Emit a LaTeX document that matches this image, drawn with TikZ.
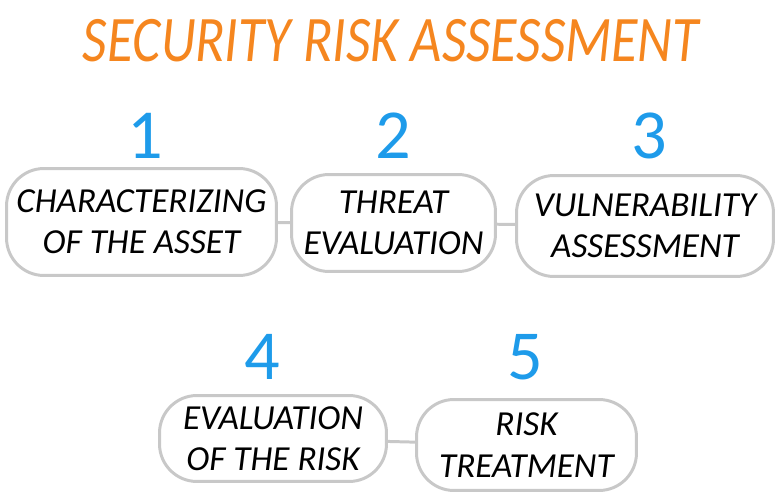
\documentclass[tikz,border=0pt]{standalone}
\usepackage{fontspec}
\setmainfont{Carlito}
\usetikzlibrary{positioning}
\definecolor{titleorange}{HTML}{F5861F}
\definecolor{numblue}{HTML}{1E9BEA}
\definecolor{boxgray}{HTML}{C8C8C8}
\tikzset{stage/.style={draw=boxgray, line width=1.7pt, rounded corners=0.75cm, align=center, inner sep=0pt, font=\fontsize{20}{23.5}\selectfont\itshape}}
\tikzset{num/.style={text=numblue, inner sep=0pt, font=\fontsize{40}{40}\selectfont}}
\tikzset{link/.style={draw=boxgray, line width=1.7pt}}

\begin{document}
\begin{tikzpicture}[x=0.02cm, y=-0.02cm]
\useasboundingbox (0,0) rectangle (782,500);
\node[text=titleorange, inner sep=0pt, font=\fontsize{37}{37}\selectfont\itshape] (title) at (391,41) {\scalebox{0.83}[1]{SECURITY RISK ASSESSMENT}};
% steps
\node[num] (n1) at (145,136) {1};
\node[num] (n2) at (393,136) {2};
\node[num] (n3) at (649,136) {3};
\node[num] (n4) at (262,357) {4};
\node[num] (n5) at (525,357) {5};
\node[stage, minimum width=5.4cm, minimum height=2.14cm] (s1) at (141.5,222) {CHARACTERIZING\\OF THE ASSET};
\node[stage, minimum width=4.08cm, minimum height=1.94cm] (s2) at (393.5,223) {THREAT\\EVALUATION};
\node[stage, minimum width=5.14cm, minimum height=2.02cm] (s3) at (645,226) {VULNERABILITY\\ASSESSMENT};
\node[stage, minimum width=4.54cm, minimum height=1.72cm] (s4) at (273,438.5) {EVALUATION\\OF THE RISK};
\node[stage, minimum width=4.4cm, minimum height=1.82cm] (s5) at (526.5,445) {RISK\\TREATMENT};
% links
\draw[link] (s1) -- (s2);
\draw[link] (s2) -- (s3);
\draw[link] (s4) -- (s5);
\end{tikzpicture}
\end{document}
